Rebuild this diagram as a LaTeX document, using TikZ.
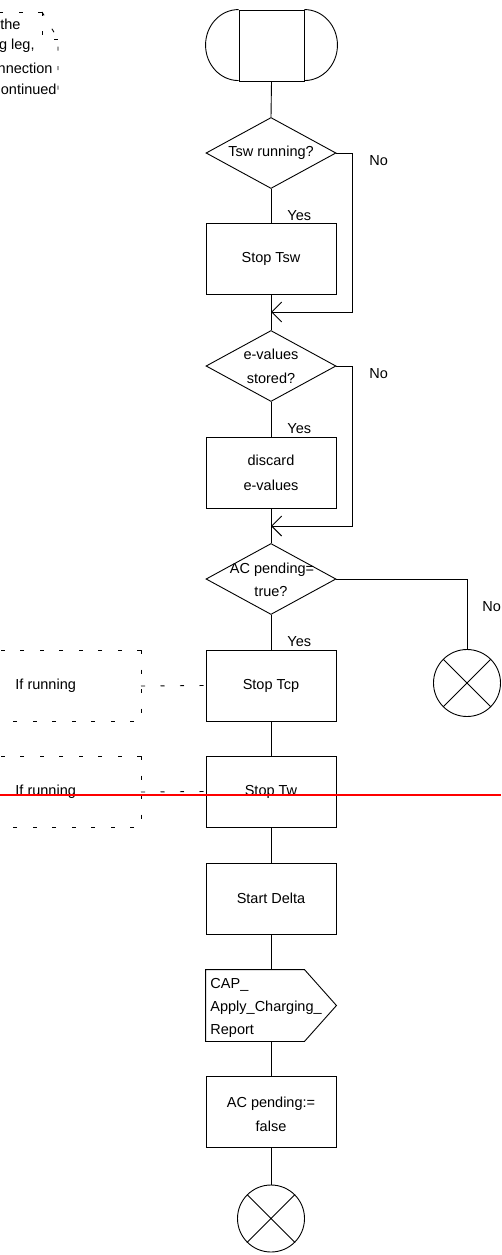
\documentclass[tikz,border=0pt]{standalone}
\usepackage{fontspec}
\setmainfont{Liberation Sans}
\usetikzlibrary{shapes.geometric,arrows.meta}
\begin{document}
\begin{tikzpicture}[x=1pt,y=-1pt, line width=0.9pt,
  every node/.style={font=\fontsize{14.5}{17}\selectfont, inner sep=0pt},
  box/.style={draw, rectangle, minimum width=130pt, minimum height=71pt},
  dia/.style={draw, diamond, minimum width=130pt, minimum height=71pt},
  xcirc/.style={draw, circle, minimum size=67pt},
  lbl/.style={anchor=west},
  arr/.style={-{Straight Barb[length=10pt,width=20pt,line width=0.9pt]}},
  dsh/.style={line width=0.9pt, dash pattern=on 4pt off 15.5pt}]
\useasboundingbox (0,0) rectangle (501,1255);

% start symbol
\node[draw, rectangle, minimum width=65pt, minimum height=71pt] (st) at (271.5,45.5) {};
\draw (st.north west) arc[start angle=270, end angle=90, x radius=33, y radius=35.5];
\draw (st.north east) arc[start angle=-90, end angle=90, x radius=33, y radius=35.5];

% decision 1
\node[dia] (d1) at (271,153) {};
\node (d1t) at (271,153) {Tsw running?};
\node[box] (b1) at (271,258.5) {Stop Tsw};
\coordinate (m1) at (271,312);

% decision 2
\node[dia] (d2) at (271,366) {};
\node (d2a) at (271,354) {e-values};
\node (d2b) at (271,378) {stored?};
\node[box] (b2) at (271,472.5) {};
\node (b2a) at (271,460) {discard};
\node (b2b) at (271,485) {e-values};
\coordinate (m2) at (271,526);

% decision 3
\node[dia] (d3) at (271,579) {};
\node (d3a) at (272,570) {AC pending=};
\node (d3b) at (271,592) {true?};
\node[box] (b3) at (271,685.5) {Stop Tcp};
\node[box] (b4) at (271,791.5) {Stop Tw};
\node[box] (b5) at (271,898.5) {Start Delta};

% output signal
\node[minimum width=130pt, minimum height=71pt] (out) at (271,1005.5) {};
\draw (out.north west) -- ([xshift=-32pt]out.north east) -- (out.east)
      -- ([xshift=-32pt]out.south east) -- (out.south west) -- cycle;
\node[anchor=west] (o1) at (210,985) {CAP\_};
\node[anchor=west] (o2) at (210,1008) {Apply\_Charging\_};
\node[anchor=west] (o3) at (210,1031) {Report};

\node[box] (b6) at (271,1112) {};
\node (b6a) at (271,1104) {AC pending:=};
\node (b6b) at (271,1126) {false};

% stop symbols
\node[xcirc] (c1) at (271,1218.5) {};
\draw (c1.north west) -- (c1.south east) (c1.north east) -- (c1.south west);
\node[xcirc] (c2) at (467,683) {};
\draw (c2.north west) -- (c2.south east) (c2.north east) -- (c2.south west);

% labels
\node[lbl] (y1) at (287,216) {Yes};
\node[lbl] (n1) at (369,161) {No};
\node[lbl] (y2) at (287,429) {Yes};
\node[lbl] (n2) at (369,374) {No};
\node[lbl] (y3) at (287,642) {Yes};
\node[lbl] (n3) at (482,607) {No};

% connectors
\draw (st.south) -- (d1.north);
\draw (d1.south) -- (b1.north);
\draw (b1.south) -- (d2.north);
\draw[arr] (d1.east) -- ++(16,0) |- (m1);
\draw (d2.south) -- (b2.north);
\draw (b2.south) -- (d3.north);
\draw[arr] (d2.east) -- ++(16,0) |- (m2);
\draw (d3.east) -| (c2.north);
\draw (d3.south) -- (b3.north);
\draw (b3.south) -- (b4.north);
\draw (b4.south) -- (b5.north);
\draw (b5.south) -- (out.north);
\draw (out.south) -- (b6.north);
\draw (b6.south) -- (c1.north);

% comments
\draw[dsh] (141,650) -- (0,650);
\draw[dsh] (141,650) -- (141,721) -- (0,721);
\node[anchor=west] (k1t) at (15,686) {If running};
\coordinate (k1) at (141,686);
\draw[dsh] (k1) -- (b3.west);

\draw[dsh] (141,756) -- (0,756);
\draw[dsh] (141,756) -- (141,827) -- (0,827);
\node[anchor=west] (k2t) at (15,792) {If running};
\coordinate (k2) at (141,792);
\draw[dsh] (k2) -- (b4.west);

% top-left comment fragment
\draw[dsh] (42,12) -- (0,12);
\draw[dsh] (42,12) -- (42,39) -- (58,39);
\draw[dsh] (42,12) -- (58,39) -- (58,100);
\node[anchor=east] (tl1) at (21,24) {the};
\node[anchor=east] (tl2) at (35,46) {g leg,};
\node[anchor=east] (tl3) at (53,68) {nnection};
\node[anchor=east] (tl4) at (57,89) {ontinued};

% red line
\draw[red, line width=2pt] (0,795) -- (501,795);
\end{tikzpicture}
\end{document}
